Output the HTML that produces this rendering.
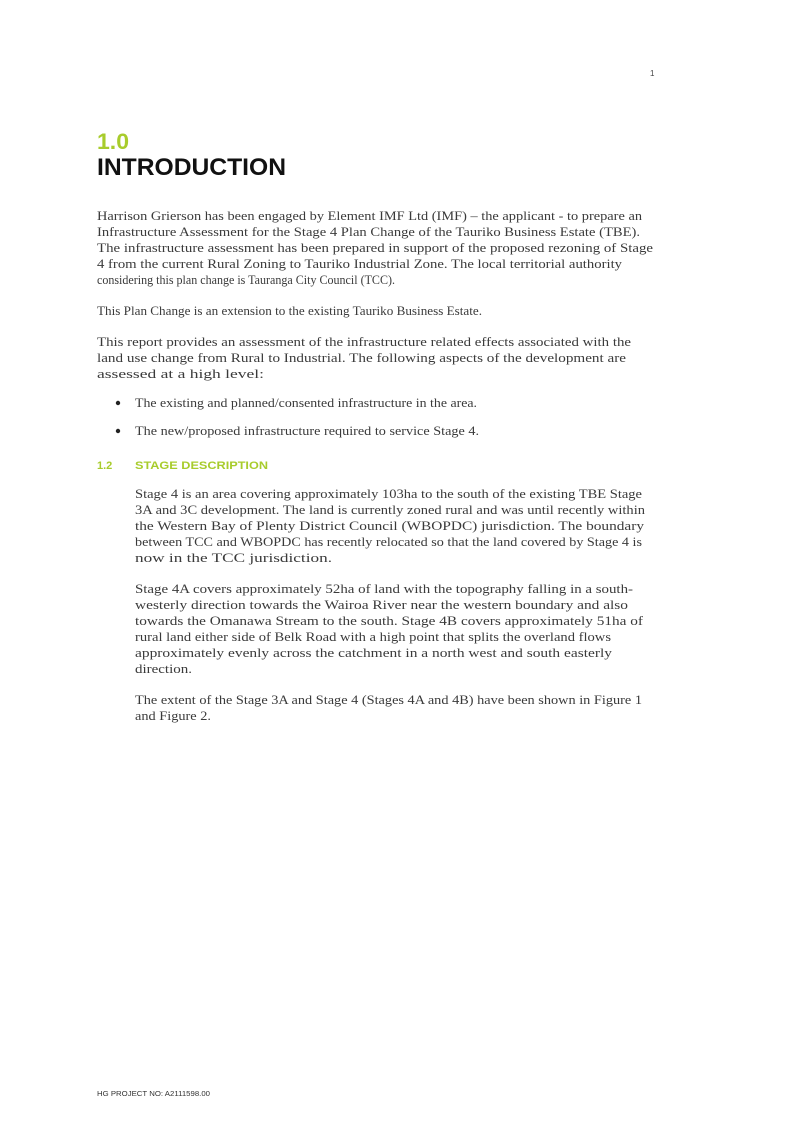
<!DOCTYPE html>
<html><head><meta charset="utf-8"><style>
html,body{margin:0;padding:0;background:#fff}
svg{display:block}
.b{font-family:"Liberation Serif",serif;font-size:13px;fill:#3a3a3a}
.h{font-family:"Liberation Sans",sans-serif;font-weight:bold}
</style></head><body>
<svg width="807" height="1140" viewBox="0 0 807 1140" xmlns="http://www.w3.org/2000/svg">
<text x="650" y="76" font-family="Liberation Sans,sans-serif" font-size="8" fill="#444">1</text>
<text class="h" x="97" y="149" font-size="22" fill="#a8cc2c" textLength="32" lengthAdjust="spacingAndGlyphs">1.0</text>
<text class="h" x="97" y="175" font-size="24" fill="#111" textLength="189" lengthAdjust="spacingAndGlyphs">INTRODUCTION</text>
<g class="b">
<text x="97" y="220" textLength="545" lengthAdjust="spacingAndGlyphs">Harrison Grierson has been engaged by Element IMF Ltd (IMF) – the applicant - to prepare an</text>
<text x="97" y="236" textLength="543" lengthAdjust="spacingAndGlyphs">Infrastructure Assessment for the Stage 4 Plan Change of the Tauriko Business Estate (TBE).</text>
<text x="97" y="252" textLength="556" lengthAdjust="spacingAndGlyphs">The infrastructure assessment has been prepared in support of the proposed rezoning of Stage</text>
<text x="97" y="268" textLength="525" lengthAdjust="spacingAndGlyphs">4 from the current Rural Zoning to Tauriko Industrial Zone. The local territorial authority</text>
<text x="97" y="284" textLength="298" lengthAdjust="spacingAndGlyphs">considering this plan change is Tauranga City Council (TCC).</text>
<text x="97" y="315" textLength="385" lengthAdjust="spacingAndGlyphs">This Plan Change is an extension to the existing Tauriko Business Estate.</text>
<text x="97" y="346" textLength="534" lengthAdjust="spacingAndGlyphs">This report provides an assessment of the infrastructure related effects associated with the</text>
<text x="97" y="362" textLength="529" lengthAdjust="spacingAndGlyphs">land use change from Rural to Industrial. The following aspects of the development are</text>
<text x="97" y="378" textLength="167" lengthAdjust="spacingAndGlyphs">assessed at a high level:</text>
<circle cx="118" cy="403" r="2.2" fill="#222"/>
<text x="135" y="407" textLength="342" lengthAdjust="spacingAndGlyphs">The existing and planned/consented infrastructure in the area.</text>
<circle cx="118" cy="431" r="2.2" fill="#222"/>
<text x="135" y="435" textLength="344" lengthAdjust="spacingAndGlyphs">The new/proposed infrastructure required to service Stage 4.</text>
</g>
<text class="h" x="97" y="469" font-size="11" fill="#a8cc2c">1.2</text>
<text class="h" x="135" y="469" font-size="11" fill="#a8cc2c" textLength="133" lengthAdjust="spacingAndGlyphs">STAGE DESCRIPTION</text>
<g class="b">
<text x="135" y="498" textLength="507" lengthAdjust="spacingAndGlyphs">Stage 4 is an area covering approximately 103ha to the south of the existing TBE Stage</text>
<text x="135" y="514" textLength="510" lengthAdjust="spacingAndGlyphs">3A and 3C development. The land is currently zoned rural and was until recently within</text>
<text x="135" y="530" textLength="509" lengthAdjust="spacingAndGlyphs">the Western Bay of Plenty District Council (WBOPDC) jurisdiction. The boundary</text>
<text x="135" y="546" textLength="507" lengthAdjust="spacingAndGlyphs">between TCC and WBOPDC has recently relocated so that the land covered by Stage 4 is</text>
<text x="135" y="562" textLength="197" lengthAdjust="spacingAndGlyphs">now in the TCC jurisdiction.</text>
<text x="135" y="593" textLength="498" lengthAdjust="spacingAndGlyphs">Stage 4A covers approximately 52ha of land with the topography falling in a south-</text>
<text x="135" y="609" textLength="493" lengthAdjust="spacingAndGlyphs">westerly direction towards the Wairoa River near the western boundary and also</text>
<text x="135" y="625" textLength="508" lengthAdjust="spacingAndGlyphs">towards the Omanawa Stream to the south. Stage 4B covers approximately 51ha of</text>
<text x="135" y="641" textLength="476" lengthAdjust="spacingAndGlyphs">rural land either side of Belk Road with a high point that splits the overland flows</text>
<text x="135" y="657" textLength="477" lengthAdjust="spacingAndGlyphs">approximately evenly across the catchment in a north west and south easterly</text>
<text x="135" y="673" textLength="57" lengthAdjust="spacingAndGlyphs">direction.</text>
<text x="135" y="704" textLength="507" lengthAdjust="spacingAndGlyphs">The extent of the Stage 3A and Stage 4 (Stages 4A and 4B) have been shown in Figure 1</text>
<text x="135" y="720" textLength="76" lengthAdjust="spacingAndGlyphs">and Figure 2.</text>
</g>
<text x="97" y="1096" font-family="Liberation Sans,sans-serif" font-size="7" fill="#333" textLength="113" lengthAdjust="spacingAndGlyphs">HG PROJECT NO:  A2111598.00</text>
</svg>
</body></html>
